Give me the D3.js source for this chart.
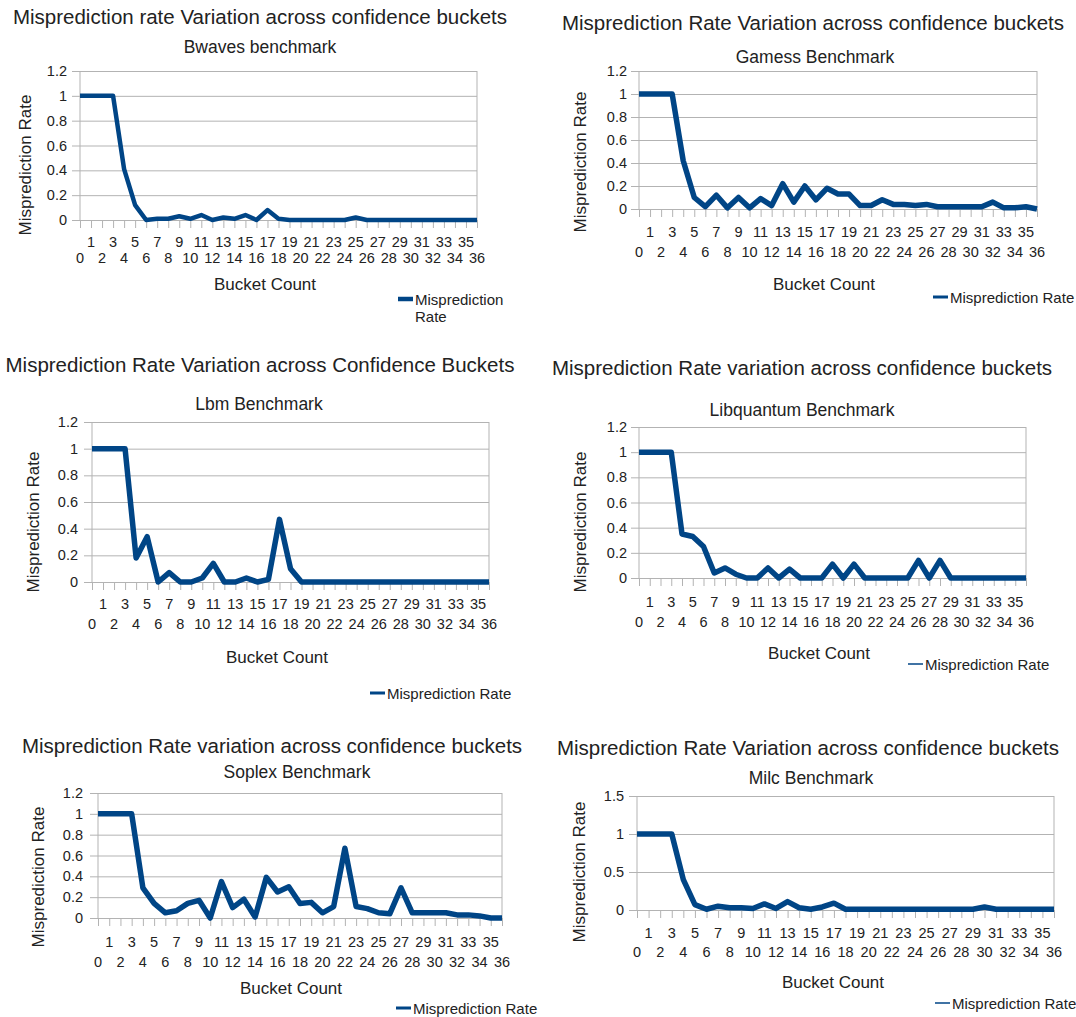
<!DOCTYPE html>
<html>
<head>
<meta charset="utf-8">
<script src="https://cdn.jsdelivr.net/npm/d3@7"></script>
<style>
  body { margin: 0; background: #fff; }
  text { font-family: "Liberation Sans", Arial, sans-serif; fill: #222; }
</style>
</head>
<body>
<svg id="chart" width="1076" height="1017"></svg>
<script>
// bucket ids 0..36
const buckets = [0,1,2,3,4,5,6,7,8,9,10,11,12,13,14,15,16,17,18,19,20,21,22,23,24,25,26,27,28,29,30,31,32,33,34,35,36];

const bwavesRates = [1,1,1,1,0.41,0.12,0,0.01,0.01,0.03,0.01,0.04,0,0.02,0.01,0.04,0,0.08,0.01,0,0,0,0,0,0,0.02,0,0,0,0,0,0,0,0,0,0,0];
const gamessRates = [1,1,1,1,0.42,0.1,0.02,0.12,0.01,0.1,0.01,0.09,0.03,0.22,0.06,0.2,0.08,0.18,0.13,0.13,0.03,0.03,0.08,0.04,0.04,0.03,0.04,0.02,0.02,0.02,0.02,0.02,0.06,0.01,0.01,0.02,0];
const lbmRates = [1,1,1,1,0.18,0.34,0,0.07,0,0,0.03,0.14,0,0,0.03,0,0.02,0.47,0.1,0,0,0,0,0,0,0,0,0,0,0,0,0,0,0,0,0,0];
const libquantumRates = [1,1,1,1,0.35,0.33,0.25,0.04,0.08,0.03,0,0,0.08,0,0.07,0,0,0,0.11,0,0.11,0,0,0,0,0,0.14,0,0.14,0,0,0,0,0,0,0,0];
const soplexRates = [1,1,1,1,0.29,0.14,0.05,0.07,0.14,0.17,0,0.35,0.1,0.18,0.01,0.39,0.25,0.3,0.14,0.15,0.05,0.11,0.67,0.11,0.09,0.05,0.04,0.29,0.05,0.05,0.05,0.05,0.03,0.03,0.02,0,0];
const milcRates = [1,1,1,1,0.4,0.07,0.01,0.05,0.03,0.03,0.02,0.08,0.02,0.11,0.03,0.01,0.04,0.09,0.01,0.01,0.01,0.01,0.01,0.01,0.01,0.01,0.01,0.01,0.01,0.01,0.04,0.01,0.01,0.01,0.01,0.01,0.01];

const yTicksDefault = [0, 0.2, 0.4, 0.6, 0.8, 1, 1.2];
const yTicksMilc = [0, 0.5, 1, 1.5];

const blue = "#004586";
const grid = "#b3b3b3";

const svg = d3.select("#chart");

function drawChart(c) {
    const g = svg.append("g");

    const x = d3.scaleLinear().domain([0, 36]).range([c.left, c.right]);
    const y = d3.scaleLinear().domain([0, d3.max(c.yTicks)]).range([c.bottom, c.top]);

    g.append("text")
        .attr("x", c.titleX)
        .attr("y", c.titleY)
        .attr("text-anchor", "middle")
        .attr("font-size", 20.5)
        .text(c.title);

    g.append("text")
        .attr("x", c.subX)
        .attr("y", c.subY)
        .attr("text-anchor", "middle")
        .attr("font-size", 17.5)
        .text(c.subtitle);

    // gridlines + y labels
    const yAxis = g.append("g")
        .attr("transform", `translate(${c.left},0)`)
        .call(d3.axisLeft(y).tickValues(c.yTicks).tickSize(-(c.right - c.left)).tickSizeOuter(0).tickPadding(c.left - c.yLabX));
    yAxis.select(".domain").remove();
    yAxis.selectAll(".tick line").attr("stroke", grid).attr("x1", -8);
    yAxis.selectAll(".tick text")
        .attr("font-size", 14.5)
        .attr("font-family", "Liberation Sans, Arial, sans-serif")
        .attr("fill", "#222")
        .text(d => d3.format("")(d));

    // frame
    g.append("line").attr("x1", c.left).attr("x2", c.left).attr("y1", c.top).attr("y2", c.bottom).attr("stroke", grid);
    g.append("line").attr("x1", c.right).attr("x2", c.right).attr("y1", c.top).attr("y2", c.bottom).attr("stroke", grid);

    // x ticks
    const xAxis = g.append("g")
        .attr("transform", `translate(0,${c.bottom})`)
        .call(d3.axisBottom(x).tickValues(buckets).tickSize(8).tickSizeOuter(0).tickFormat(""));
    xAxis.select(".domain").attr("stroke", grid);
    xAxis.selectAll(".tick line").attr("stroke", grid);

    g.selectAll(".xlab")
        .data(buckets)
        .join("text")
        .attr("class", "xlab")
        .attr("x", d => x(d))
        .attr("y", d => d % 2 ? c.oddY : c.evenY)
        .attr("text-anchor", "middle")
        .attr("font-size", 14.5)
        .text(d => d);

    g.append("text")
        .attr("transform", `translate(${c.yTitleX},${c.yTitleY}) rotate(-90)`)
        .attr("text-anchor", "middle")
        .attr("dy", "0.35em")
        .attr("font-size", 17)
        .text("Misprediction Rate");

    g.append("text")
        .attr("x", c.xTitleX)
        .attr("y", c.xTitleY)
        .attr("text-anchor", "middle")
        .attr("font-size", 17)
        .text("Bucket Count");

    const line = d3.line()
        .x((d, i) => x(buckets[i]))
        .y(d => y(d));

    g.append("path")
        .datum(c.values)
        .attr("fill", "none")
        .attr("stroke", blue)
        .attr("stroke-width", c.lineWidth)
        .attr("stroke-linejoin", "round")
        .attr("d", line);

    // legend
    g.append("line")
        .attr("x1", c.legX).attr("x2", c.legX + 15)
        .attr("y1", c.legY).attr("y2", c.legY)
        .attr("stroke", blue)
        .attr("stroke-width", c.legWidth);

    const legText = g.append("text")
        .attr("x", c.legX + 17)
        .attr("y", c.legY + 6)
        .attr("font-size", 15);
    if (c.legWrap) {
        legText.append("tspan").text("Misprediction");
        legText.append("tspan").attr("x", c.legX + 17).attr("dy", 17).text("Rate");
    } else {
        legText.text("Misprediction Rate");
    }
}

drawChart({
    title: "Misprediction rate Variation across confidence buckets", subtitle: "Bwaves benchmark",
    values: bwavesRates, yTicks: yTicksDefault,
    titleX: 260, titleY: 24, subX: 260, subY: 53,
    left: 80, right: 477, top: 71, bottom: 220, yLabX: 67,
    yTitleX: 25, yTitleY: 165, oddY: 247, evenY: 263, xTitleX: 265, xTitleY: 290,
    lineWidth: 4.5, legX: 398, legY: 299, legWidth: 4.5, legWrap: true
});

drawChart({
    title: "Misprediction Rate Variation across confidence buckets", subtitle: "Gamess Benchmark",
    values: gamessRates, yTicks: yTicksDefault,
    titleX: 813, titleY: 30, subX: 815, subY: 63,
    left: 639, right: 1037, top: 71, bottom: 209, yLabX: 627,
    yTitleX: 580, yTitleY: 162, oddY: 237, evenY: 257, xTitleX: 824, xTitleY: 290,
    lineWidth: 5.5, legX: 933, legY: 297, legWidth: 3
});

drawChart({
    title: "Misprediction Rate Variation across Confidence Buckets", subtitle: "Lbm Benchmark",
    values: lbmRates, yTicks: yTicksDefault,
    titleX: 260, titleY: 372, subX: 259, subY: 410,
    left: 92, right: 489, top: 422, bottom: 582, yLabX: 78,
    yTitleX: 33, yTitleY: 522, oddY: 609, evenY: 629, xTitleX: 277, xTitleY: 663,
    lineWidth: 5.5, legX: 370, legY: 693, legWidth: 3
});

drawChart({
    title: "Misprediction Rate variation across confidence buckets", subtitle: "Libquantum Benchmark",
    values: libquantumRates, yTicks: yTicksDefault,
    titleX: 802, titleY: 375, subX: 802, subY: 416,
    left: 639, right: 1026, top: 427, bottom: 578, yLabX: 627,
    yTitleX: 580, yTitleY: 522, oddY: 607, evenY: 627, xTitleX: 819, xTitleY: 659,
    lineWidth: 5.5, legX: 908, legY: 664, legWidth: 1.5
});

drawChart({
    title: "Misprediction Rate variation across confidence buckets", subtitle: "Soplex Benchmark",
    values: soplexRates, yTicks: yTicksDefault,
    titleX: 272, titleY: 753, subX: 297, subY: 778,
    left: 98, right: 502, top: 793, bottom: 918, yLabX: 83,
    yTitleX: 38, yTitleY: 877, oddY: 947, evenY: 967, xTitleX: 291, xTitleY: 994,
    lineWidth: 5.5, legX: 396, legY: 1008, legWidth: 3
});

drawChart({
    title: "Misprediction Rate Variation across confidence buckets", subtitle: "Milc Benchmark",
    values: milcRates, yTicks: yTicksMilc,
    titleX: 808, titleY: 755, subX: 811, subY: 784,
    left: 637, right: 1054, top: 796, bottom: 910, yLabX: 624,
    yTitleX: 579, yTitleY: 872, oddY: 938, evenY: 957, xTitleX: 833, xTitleY: 988,
    lineWidth: 5.5, legX: 935, legY: 1003, legWidth: 1.5
});
</script>
</body>
</html>
